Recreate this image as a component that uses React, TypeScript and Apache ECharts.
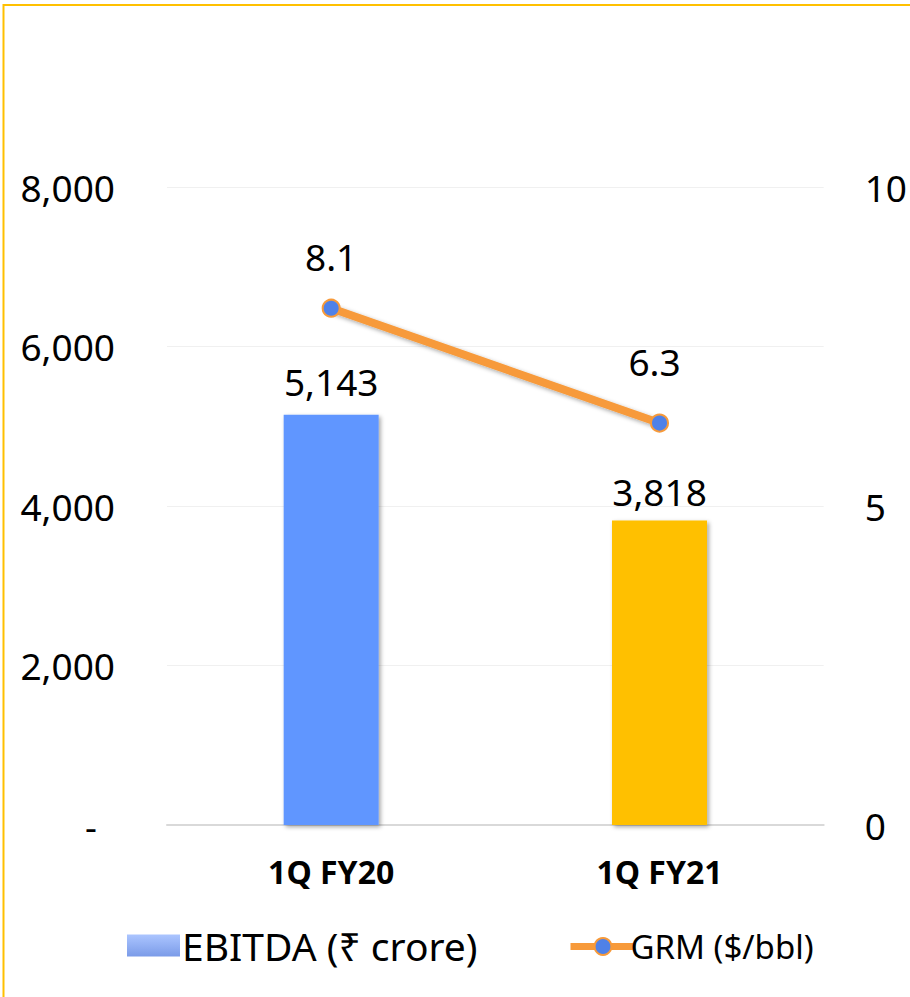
import React, { useEffect, useRef } from "react";
import * as echarts from "echarts";

const categories = ["1Q FY20", "1Q FY21"];
const ebitda = [5143, 3818];
const grm = [8.1, 6.3];
const leftTicks = { min: 0, max: 8000, interval: 2000 };
const rightTicks = { min: 0, max: 10, interval: 5 };

const barColors = ["#6096FF", "#FFC000"];
const barLabelDist = [15, 11];
const lineLabelDist = [24, 34];
const lineLabelOffset = [[0, 0], [-5, 0]];

const FONT = "Noto Sans";
const ORANGE = "#F79A3A";
const BLUE_DOT = "#4F81E8";

export default function App() {
  const ref = useRef<HTMLDivElement>(null);
  useEffect(() => {
    if (!ref.current) return;
    const chart = echarts.init(ref.current, null, { renderer: "svg" });
    const fmt = (v: number) => v.toLocaleString("en-US");
    const shadow = {
      shadowBlur: 4,
      shadowColor: "rgba(0,0,0,0.35)",
      shadowOffsetX: 2,
      shadowOffsetY: 2,
    };
    chart.setOption({
      animation: false,
      textStyle: { fontFamily: FONT },
      grid: { left: 167, right: 85, top: 187, bottom: 172 },
      graphic: [
        {
          type: "rect",
          shape: { x: 3.5, y: 5, width: 1000, height: 1100 },
          style: { fill: "none", stroke: "#FFC000", lineWidth: 2 },
          silent: true,
        },
      ],
      legend: [
        {
          data: [
            {
              name: "EBITDA (₹ crore)",
              icon: "rect",
              itemStyle: {
                color: new echarts.graphic.LinearGradient(0, 0, 0, 1, [
                  { offset: 0, color: "#ABC5FF" },
                  { offset: 1, color: "#7B9BE8" },
                ]),
              },
            },
          ],
          left: 122,
          top: 921,
          itemWidth: 53,
          itemHeight: 22,
          itemGap: 0,
          textStyle: { fontSize: 39, color: "#000", fontFamily: FONT, padding: [0, 0, 0, -3] },
        },
        {
          data: ["GRM ($/bbl)"],
          left: 562,
          top: 925,
          itemWidth: 65,
          itemHeight: 21,
          itemGap: 0,
          lineStyle: { color: ORANGE, width: 7 },
          itemStyle: { color: BLUE_DOT, borderColor: ORANGE, borderWidth: 2 },
          textStyle: { fontSize: 33, color: "#000", fontFamily: FONT, padding: [0, 0, 0, -10] },
        },
      ],
      xAxis: {
        type: "category",
        data: categories,
        axisLine: { lineStyle: { color: "#D9D9D9", width: 2 } },
        axisTick: { show: false },
        axisLabel: {
          fontSize: 32,
          fontWeight: "bold",
          color: "#000",
          margin: 30,
          fontFamily: FONT,
        },
      },
      yAxis: [
        {
          type: "value",
          ...leftTicks,
          axisLine: { show: false },
          axisTick: { show: false },
          splitLine: { lineStyle: { color: "#F0F0F0", width: 1 } },
          axisLabel: {
            fontSize: 37,
            color: "#000",
            margin: 52,
            fontFamily: FONT,
            formatter: (v: number) => (v === 0 ? "{d|-}" : fmt(v)),
            rich: {
              d: { fontSize: 37, color: "#000", fontFamily: FONT, padding: [0, 18, 0, 0] },
            },
          },
        },
        {
          type: "value",
          ...rightTicks,
          axisLine: { show: false },
          axisTick: { show: false },
          splitLine: { show: false },
          axisLabel: { fontSize: 37, color: "#000", margin: 41, fontFamily: FONT },
        },
      ],
      series: [
        {
          name: "EBITDA (₹ crore)",
          type: "bar",
          barWidth: 95,
          data: ebitda.map((v, i) => ({
            value: v,
            itemStyle: { color: barColors[i] },
            label: { distance: barLabelDist[i] },
          })),
          itemStyle: { ...shadow },
          label: {
            show: true,
            position: "top",
            fontSize: 37,
            color: "#000",
            fontFamily: FONT,
            formatter: (p: any) => fmt(p.value),
          },
        },
        {
          name: "GRM ($/bbl)",
          type: "line",
          yAxisIndex: 1,
          data: grm.map((v, i) => ({
            value: v,
            label: { distance: lineLabelDist[i], offset: lineLabelOffset[i] },
          })),
          symbol: "circle",
          symbolSize: 17,
          lineStyle: { color: ORANGE, width: 8, ...shadow },
          itemStyle: { color: BLUE_DOT, borderColor: ORANGE, borderWidth: 2 },
          label: {
            show: true,
            position: "top",
            fontSize: 37,
            color: "#000",
            fontFamily: FONT,
            formatter: (p: any) => p.value.toFixed(1),
          },
        },
      ],
    });
    return () => chart.dispose();
  }, []);
  return (
    <div
      ref={ref}
      style={{ position: "fixed", left: 0, top: 0, width: 910, height: 997, background: "#fff" }}
    />
  );
}
